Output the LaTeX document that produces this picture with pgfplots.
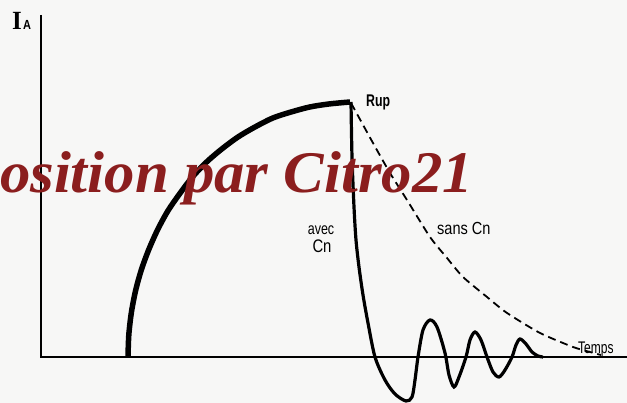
\documentclass[border=0pt]{standalone}
\usepackage{pgfplots}
\pgfplotsset{compat=1.18}
\usepackage{graphicx}
\usepackage{fontspec}
\setmainfont{Liberation Serif}
\newfontfamily\lab{Liberation Sans}
\definecolor{wmark}{HTML}{8B1E1E}
\definecolor{paper}{HTML}{F7F7F6}
% label in the tall, narrow lettering of the scan
\newcommand{\lbl}[4]{\scalebox{#1}[#2]{\lab\fontsize{#3}{#3}\selectfont #4}}
\begin{document}
\begin{tikzpicture}
  \useasboundingbox (0,0) rectangle (627pt,403pt);
  \fill[paper] (0,0) rectangle (627pt,403pt);
  \begin{axis}[
      at={(0,0)}, anchor=south west,
      scale only axis,
      width=627pt, height=403pt,
      xmin=-41, xmax=586,
      ymin=-46, ymax=357,
      hide axis,
      clip=false
    ]
    % axes
    \draw[black, line width=1.8pt] (axis cs:0,342) -- (axis cs:0,0);
    \draw[black, line width=2.2pt] (axis cs:-1,0) -- (axis cs:590,0);

    % current build-up (quarter ellipse)
    \addplot[black, line width=5.5pt, smooth, line cap=butt] coordinates {
      (87,0) (87.8,22) (90.3,44) (94.5,66) (100.3,87) (107.6,107)
      (116.5,127) (126.8,146) (138.5,163) (151.4,180) (165.6,195)
      (180.8,208) (197,220) (214,230) (231.8,239) (250.1,245)
      (268.8,250) (287.8,253) (309,255)
    };

    % sans Cn
    \addplot[black, line width=1.8pt, dash pattern=on 8pt off 5pt, smooth, tension=0.4] coordinates {
      (310,254) (332,214) (349,184) (366,157) (389,120) (406,99)
      (422,80) (446,60) (466,44) (499,24) (532,10) (549,5) (560,2)
    };

    % avec Cn
    \addplot[black, line width=3.2pt, smooth, tension=0.5] coordinates {
      (310,255) (311,200) (313,150) (315,117) (318,90) (322,62)
      (327,34) (334,0) (344,-23) (354,-37) (365,-44) (371,-40)
      (374,-23) (377,0) (382,27) (389,37) (396,30) (404,4) (408,-18)
      (413,-30) (418,-20) (425,0) (429,17) (434,25) (440,17) (446,0)
      (452,-15) (458,-20) (464,-13) (471,0) (475,12) (479,18) (485,13)
      (491,5) (497,1) (502,0)
    };

    % labels
    \node[anchor=base west, inner sep=0] at (axis cs:-29,327) {\scalebox{1}[1.05]{\bfseries\fontsize{25}{25}\selectfont I}};
    \node[anchor=base west, inner sep=0] at (axis cs:-18,327) {\lbl{1}{1.2}{11}{\bfseries A}};
    \node[anchor=base west, inner sep=0] at (axis cs:325,250) {\lbl{0.95}{1.3}{13}{\bfseries Rup}};
    \node[anchor=base, inner sep=0] at (axis cs:280,122) {\lbl{1}{1.3}{12.5}{avec}};
    \node[anchor=base, inner sep=0] at (axis cs:281,104) {\lbl{1.06}{1.3}{14}{Cn}};
    \node[anchor=base west, inner sep=0] at (axis cs:396,122) {\lbl{1.04}{1.25}{14}{sans Cn}};
    \node[anchor=base west, inner sep=0] at (axis cs:537,3) {\lbl{1}{1.4}{12}{Temps}};

    % watermark
    \node[anchor=base east, inner sep=0, text=wmark] at (axis cs:432,164)
      {\scalebox{1.03}[1]{\fontsize{59}{59}\selectfont\bfseries\itshape osition par Citro21}};
  \end{axis}
\end{tikzpicture}
\end{document}
